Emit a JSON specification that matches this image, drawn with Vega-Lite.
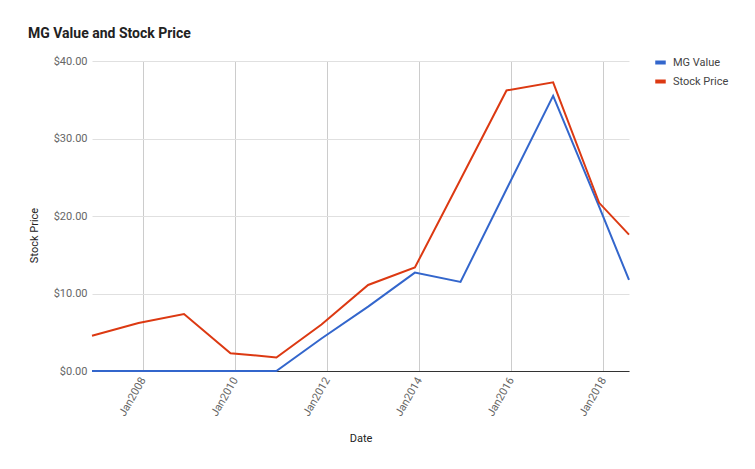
{
  "$schema": "https://vega.github.io/schema/vega-lite/v6.json",
  "width": 537,
  "height": 310,
  "autosize": {"type": "none"},
  "padding": {"left": 92, "top": 61, "right": 126, "bottom": 98},
  "background": "#ffffff",
  "title": {
    "text": "MG Value and Stock Price",
    "anchor": "start",
    "frame": "group",
    "dx": -64,
    "offset": 0,
    "baseline": "bottom",
    "font": "Roboto",
    "fontSize": 14,
    "fontWeight": "bold",
    "color": "#222222"
  },
  "data": {
    "values": [
      {"date": "2006-11-22", "series": "MG Value", "value": 0},
      {"date": "2007-11-26", "series": "MG Value", "value": 0},
      {"date": "2008-11-21", "series": "MG Value", "value": 0},
      {"date": "2009-11-25", "series": "MG Value", "value": 0},
      {"date": "2010-11-24", "series": "MG Value", "value": 0},
      {"date": "2011-11-17", "series": "MG Value", "value": 4.2},
      {"date": "2012-11-21", "series": "MG Value", "value": 8.3},
      {"date": "2013-11-27", "series": "MG Value", "value": 12.7},
      {"date": "2014-11-24", "series": "MG Value", "value": 11.5},
      {"date": "2015-11-24", "series": "MG Value", "value": 23.45},
      {"date": "2016-11-28", "series": "MG Value", "value": 35.5},
      {"date": "2017-11-28", "series": "MG Value", "value": 21.2},
      {"date": "2018-07-23", "series": "MG Value", "value": 11.75},
      {"date": "2006-11-22", "series": "Stock Price", "value": 4.55},
      {"date": "2007-11-26", "series": "Stock Price", "value": 6.2},
      {"date": "2008-11-21", "series": "Stock Price", "value": 7.35},
      {"date": "2009-11-25", "series": "Stock Price", "value": 2.3},
      {"date": "2010-11-24", "series": "Stock Price", "value": 1.75},
      {"date": "2011-11-17", "series": "Stock Price", "value": 6.0},
      {"date": "2012-11-21", "series": "Stock Price", "value": 11.1},
      {"date": "2013-11-27", "series": "Stock Price", "value": 13.35},
      {"date": "2014-11-24", "series": "Stock Price", "value": 24.7},
      {"date": "2015-11-24", "series": "Stock Price", "value": 36.2},
      {"date": "2016-11-28", "series": "Stock Price", "value": 37.25},
      {"date": "2017-11-28", "series": "Stock Price", "value": 21.7},
      {"date": "2018-07-23", "series": "Stock Price", "value": 17.6}
    ]
  },
  "mark": {"type": "line", "strokeWidth": 2, "clip": false},
  "encoding": {
    "x": {
      "field": "date",
      "type": "temporal",
      "scale": {"nice": false},
      "axis": {
        "title": "Date",
        "values": [
          {"year": 2008, "month": 1, "date": 1},
          {"year": 2010, "month": 1, "date": 1},
          {"year": 2012, "month": 1, "date": 1},
          {"year": 2014, "month": 1, "date": 1},
          {"year": 2016, "month": 1, "date": 1},
          {"year": 2018, "month": 1, "date": 1}
        ],
        "format": "%b%Y",
        "labelAngle": -60,
        "labelAlign": "right",
        "labelBaseline": "middle",
        "labelPadding": 7,
        "labelFont": "Roboto",
        "labelFontSize": 11,
        "labelColor": "#666666",
        "ticks": false,
        "domain": true,
        "domainColor": "#333333",
        "domainWidth": 1,
        "grid": true,
        "gridColor": "#cccccc",
        "titleFont": "Roboto",
        "titleFontSize": 11,
        "titleFontWeight": "normal",
        "titleColor": "#222222",
        "titlePadding": 15
      }
    },
    "y": {
      "field": "value",
      "type": "quantitative",
      "scale": {"domain": [0, 40], "nice": false},
      "axis": {
        "title": "Stock Price",
        "values": [0, 10, 20, 30, 40],
        "format": "$,.2f",
        "labelFont": "Roboto",
        "labelFontSize": 11,
        "labelColor": "#666666",
        "labelPadding": 5,
        "ticks": false,
        "domain": false,
        "grid": true,
        "gridColor": "#e0e0e0",
        "titleFont": "Roboto",
        "titleFontSize": 11,
        "titleFontWeight": "normal",
        "titleColor": "#222222",
        "titleAngle": 270,
        "titleX": -58,
        "titleY": 174,
        "titleAlign": "center",
        "titleBaseline": "middle"
      }
    },
    "color": {
      "field": "series",
      "type": "nominal",
      "scale": {"domain": ["MG Value", "Stock Price"], "range": ["#3366cc", "#dc3912"]},
      "legend": {
        "title": null,
        "orient": "none",
        "legendX": 561,
        "legendY": -6,
        "symbolType": "stroke",
        "symbolStrokeWidth": 4,
        "symbolSize": 110,
        "labelFont": "Roboto",
        "labelFontSize": 11,
        "labelColor": "#444444",
        "labelOffset": 5,
        "rowPadding": 2
      }
    }
  },
  "config": {"view": {"stroke": null}}
}
